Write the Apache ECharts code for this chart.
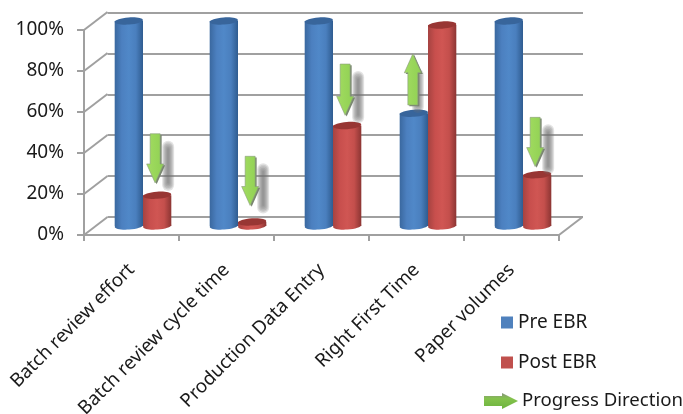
<!DOCTYPE html>
<html><head><meta charset="utf-8">
<script src="https://cdn.jsdelivr.net/npm/echarts@6/dist/echarts.min.js"></script>
<style>html,body{margin:0;padding:0;background:#fff}#c{width:683px;height:414px;filter:blur(0.35px)}</style>
</head><body><div id="c"></div>
<script>
const categories = ['Batch review effort','Batch review cycle time','Production Data Entry','Right First Time','Paper volumes'];
const preEBR = [100,100,100,55,100];
const postEBR = [15,2,49,98,25];
const arrowTail = [45,34,79,59,53];
const arrowTip = [21,10,54,84,29];
const yTicks = [0,20,40,60,80,100];
const seriesNames = ['Pre EBR','Post EBR'];
const arrowLegend = 'Progress Direction';

const FONT = '"Noto Sans", sans-serif';
const MID = [11.5,-9], BACK = [23.5,-18];
function lg(stops){return {type:'linear',x:0,y:0,x2:1,y2:0,colorStops:stops.map((c,i)=>({offset:i/(stops.length-1),color:c}))};}

function cylinder(side, c){
  return function(p, api){
    const i = api.value(0), v = api.value(1);
    const base = api.coord([i,0]), top = api.coord([i,v]);
    const w = api.size([1,0])[0]*0.298;
    const cx = base[0]+MID[0]+side*w/2, y0 = base[1]+MID[1], y1 = top[1]+MID[1];
    const ell=(y,fill,z)=>({type:'ellipse',x:cx,y:y,rotation:0.07,shape:{cx:0,cy:0,rx:w/2,ry:3.6},style:{fill:fill},z2:z});
    return {type:'group',children:[
      ell(y0,lg(c.body),1),
      {type:'rect',shape:{x:cx-w/2,y:y1,width:w,height:y0-y1},style:{fill:lg(c.body)},z2:2},
      ell(y1,c.top,3)
    ]};
  };
}

function walls(p, api){
  const v = api.value(0), s = p.coordSys, y = api.coord([0,v])[1];
  const kids = [{type:'line',shape:{x1:s.x,y1:y,x2:s.x+BACK[0],y2:y+BACK[1]},style:{stroke:'#a0a0a0',lineWidth:2}}];
  if(v===0) kids.push({type:'line',shape:{x1:s.x+s.width,y1:y,x2:s.x+s.width+BACK[0],y2:y+BACK[1]},style:{stroke:'#a0a0a0',lineWidth:2}});
  return {type:'group',children:kids};
}

function arrowPts(x,t,h,hw,sw,hl){
  const d = h>t?1:-1, n = h-d*hl;
  return [[x-sw,t],[x+sw,t],[x+sw,n],[x+hw,n],[x,h],[x-hw,n],[x-sw,n]];
}
function arrows(p, api){
  const i = api.value(0), tv = api.value(1), hv = api.value(2);
  const up = hv>tv;
  const base = api.coord([i,0]);
  const w = api.size([1,0])[0]*0.298;
  const x = base[0]+MID[0]+(up?-1:1)*w/2-(up?1:2);
  const t = api.coord([i,tv])[1]+MID[1], h = api.coord([i,hv])[1]+MID[1];
  const pts = arrowPts(x,t,h,8.5,5,19);
  const sx = x+(up?5:13), sy0 = Math.min(t,h)+(up?18:10), sy1 = Math.max(t,h)+(up?5:5);
  const soft = [];
  for(let k=0;k<6;k++){
    const hw = 6-k, e = 3-k*1.5;
    soft.push({type:'rect',shape:{x:sx-hw,y:sy0-e,width:2*hw,height:sy1-sy0+2*e,r:hw},style:{fill:'rgba(115,115,115,0.2)'},z2:1});
  }
  return {type:'group',children:soft.concat([
    {type:'polygon',x:1.5,y:1.2,shape:{points:pts},style:{fill:'#79866f'},z2:2},
    {type:'polygon',shape:{points:pts},style:{fill:{type:'linear',x:0,y:0,x2:1,y2:0,colorStops:[{offset:0,color:'#a3dc62'},{offset:1,color:'#8fd052'}]},stroke:'#8a9a7e',lineWidth:0.6},z2:3}
  ])};
}

const chart = echarts.init(document.getElementById('c'),null,{renderer:'canvas'});
chart.setOption({
  animation:false,
  backgroundColor:'#fff',
  grid:[
    {left:84,right:124,top:30,bottom:179,outerBoundsMode:'none'},
    {left:107.5,right:100,top:12.5,bottom:197,outerBoundsMode:'none'}
  ],
  xAxis:[
    {type:'category',gridIndex:0,data:categories,
      axisLine:{lineStyle:{color:'#a0a0a0',width:2}},
      axisTick:{show:true,alignWithLabel:false,length:6,lineStyle:{color:'#a0a0a0',width:2}},
      axisLabel:{interval:0,rotate:45,margin:32,color:'#1a1a1a',fontSize:18.8,fontFamily:FONT,hideOverlap:false}},
    {type:'category',gridIndex:1,data:categories,show:false}
  ],
  yAxis:[
    {type:'value',gridIndex:0,min:0,max:100,interval:20,splitLine:{show:false},
      axisLine:{show:true,lineStyle:{color:'#a0a0a0',width:2}},
      axisTick:{show:true,length:7,lineStyle:{color:'#a0a0a0',width:2}},
      axisLabel:{formatter:'{value}%',margin:20,padding:[4,0,0,0],color:'#1a1a1a',fontSize:19,fontFamily:FONT}},
    {type:'value',gridIndex:1,min:0,max:100,interval:20,
      axisLine:{show:false},axisTick:{show:false},axisLabel:{show:false},
      splitLine:{show:true,lineStyle:{color:'#a0a0a0',width:2}}}
  ],
  legend:{orient:'vertical',left:496,top:308,itemWidth:12,itemHeight:12,itemGap:21,
    data:seriesNames.map(n=>({name:n,icon:'rect'})),
    textStyle:{color:'#1a1a1a',fontSize:19,fontFamily:FONT}},
  series:[
    {type:'custom',name:'walls',silent:true,data:yTicks.map(v=>[v]),encode:{y:0},renderItem:walls,clip:false,z:1},
    {type:'custom',name:seriesNames[0],color:'#4f81bd',data:preEBR.map((v,i)=>[i,v]),encode:{x:0,y:1},clip:false,z:3,
      renderItem:cylinder(-1,{body:['#3a689f','#4c80c0','#5088c8','#4a7fbe','#2f5c90'],top:'#38659b'})},
    {type:'custom',name:seriesNames[1],color:'#c0504d',data:postEBR.map((v,i)=>[i,v]),encode:{x:0,y:1},clip:false,z:3,
      renderItem:cylinder(1,{body:['#a54341','#c84f4d','#d05653','#c44f4c','#8c3533'],top:'#983634'})},
    {type:'custom',name:arrowLegend,silent:true,data:arrowTail.map((v,i)=>[i,v,arrowTip[i]]),encode:{x:0,y:[1,2]},renderItem:arrows,clip:false,z:4}
  ],
  graphic:[
    {type:'polygon',shape:{points:[[484,396],[502,396],[502,393],[518,401],[502,409],[502,406],[484,406]]},
     style:{fill:{type:'linear',x:0,y:0,x2:0,y2:1,colorStops:[{offset:0,color:'#8a9580'},{offset:0.35,color:'#84c24c'},{offset:1,color:'#6db33f'}]}}},
    {type:'text',x:522,y:401,style:{text:arrowLegend,fill:'#1a1a1a',font:'18.6px '+FONT,verticalAlign:'middle',align:'left'}}
  ]
});
</script></body></html>
